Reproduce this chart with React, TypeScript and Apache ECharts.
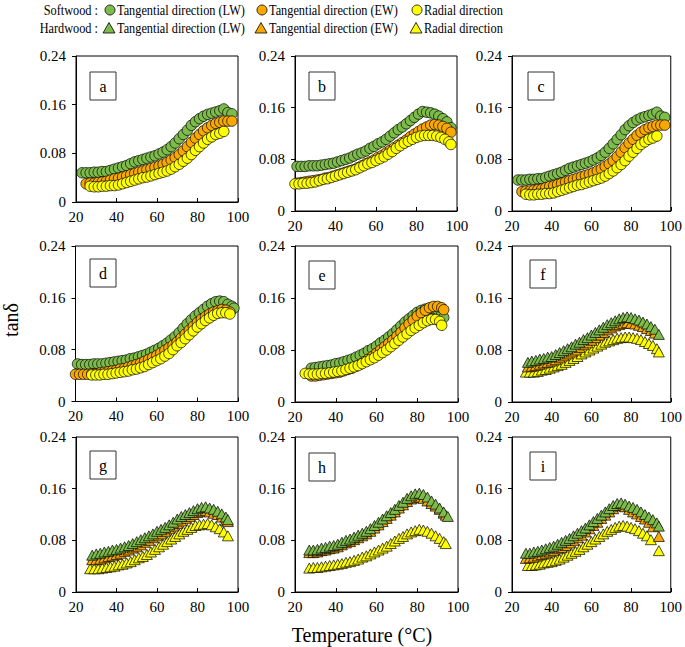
import React, { useEffect, useRef } from 'react';
import * as echarts from 'echarts';

// ---------- DATA ----------
const X_TICKS = [20, 40, 60, 80, 100];
const Y_TICKS = [0, 0.08, 0.16, 0.24];
const PANEL_LABELS = ['a', 'b', 'c', 'd', 'e', 'f', 'g', 'h', 'i'];
const LEGEND_GROUPS = ['Softwood :', 'Hardwood :'];
const LEGEND_ITEMS = ['Tangential direction (LW)', 'Tangential direction (EW)', 'Radial direction'];
const X_TITLE = 'Temperature (°C)';
const Y_TITLE = 'tanδ';

type P = [number, number][];

const A_LW: P = [[23,0.048],[25,0.048],[27,0.048],[29,0.049],[31,0.049],[33,0.050],[35,0.050],[37,0.052],[39,0.054],[41,0.056],[43,0.058],[45,0.060],[47,0.063],[49,0.066],[51,0.068],[53,0.070],[55,0.072],[57,0.074],[59,0.076],[61,0.079],[63,0.082],[65,0.086],[67,0.091],[69,0.097],[71,0.104],[73,0.111],[75,0.118],[77,0.126],[79,0.132],[81,0.137],[83,0.141],[85,0.144],[87,0.146],[89,0.148],[91,0.150],[93,0.153],[95,0.147],[97,0.145]];
const A_EW: P = [[25,0.030],[27,0.031],[29,0.031],[31,0.032],[33,0.033],[35,0.034],[37,0.036],[39,0.038],[41,0.039],[43,0.041],[45,0.043],[47,0.045],[49,0.047],[51,0.049],[53,0.051],[55,0.053],[57,0.055],[59,0.057],[61,0.059],[63,0.062],[65,0.065],[67,0.069],[69,0.073],[71,0.078],[73,0.084],[75,0.091],[77,0.098],[79,0.105],[81,0.111],[83,0.117],[85,0.122],[87,0.126],[89,0.129],[91,0.131],[93,0.133],[95,0.133],[97,0.133]];
const A_RD: P = [[27,0.026],[29,0.025],[31,0.025],[33,0.026],[35,0.026],[37,0.027],[39,0.027],[41,0.028],[43,0.030],[45,0.032],[47,0.034],[49,0.036],[51,0.038],[53,0.040],[55,0.041],[57,0.043],[59,0.045],[61,0.047],[63,0.049],[65,0.051],[67,0.054],[69,0.058],[71,0.062],[73,0.067],[75,0.072],[77,0.078],[79,0.085],[81,0.091],[83,0.097],[85,0.103],[87,0.107],[89,0.111],[91,0.113],[93,0.116]];

const B_LW: P = [[21,0.069],[23,0.069],[25,0.069],[27,0.070],[29,0.070],[31,0.070],[33,0.071],[35,0.072],[37,0.073],[39,0.074],[41,0.076],[43,0.078],[45,0.080],[47,0.082],[49,0.085],[51,0.088],[53,0.090],[55,0.093],[57,0.097],[59,0.100],[61,0.104],[63,0.107],[65,0.111],[67,0.116],[69,0.121],[71,0.126],[73,0.130],[75,0.135],[77,0.140],[79,0.145],[81,0.150],[83,0.154],[85,0.153],[87,0.152],[89,0.150],[91,0.147],[93,0.143],[95,0.138],[97,0.129]];
const B_EW: P = [[21,0.043],[23,0.044],[25,0.045],[27,0.046],[29,0.047],[31,0.048],[33,0.049],[35,0.051],[37,0.052],[39,0.054],[41,0.056],[43,0.058],[45,0.060],[47,0.062],[49,0.064],[51,0.067],[53,0.070],[55,0.073],[57,0.076],[59,0.079],[61,0.083],[63,0.086],[65,0.090],[67,0.094],[69,0.098],[71,0.102],[73,0.106],[75,0.110],[77,0.115],[79,0.119],[81,0.123],[83,0.127],[85,0.130],[87,0.133],[89,0.134],[91,0.133],[93,0.131],[95,0.128],[97,0.122]];
const B_RD: P = [[20,0.042],[22,0.042],[24,0.043],[26,0.043],[28,0.044],[30,0.045],[32,0.047],[34,0.049],[36,0.050],[38,0.052],[40,0.054],[42,0.056],[44,0.058],[46,0.060],[48,0.062],[50,0.064],[52,0.067],[54,0.070],[56,0.073],[58,0.075],[60,0.078],[62,0.081],[64,0.084],[66,0.088],[68,0.092],[70,0.097],[72,0.101],[74,0.105],[76,0.108],[78,0.111],[80,0.114],[82,0.116],[84,0.117],[86,0.117],[88,0.117],[90,0.116],[92,0.114],[94,0.111],[96,0.107],[97,0.103]];

// panel c repeats the same curves as panel a
const C_LW: P = A_LW;
const C_EW: P = A_EW;
const C_RD: P = A_RD;

const D_LW: P = [[21,0.058],[23,0.057],[25,0.057],[27,0.057],[29,0.058],[31,0.058],[33,0.058],[35,0.059],[37,0.060],[39,0.061],[41,0.062],[43,0.063],[45,0.064],[47,0.066],[49,0.067],[51,0.069],[53,0.071],[55,0.073],[57,0.076],[59,0.079],[61,0.082],[63,0.086],[65,0.090],[67,0.095],[69,0.100],[71,0.106],[73,0.113],[75,0.120],[77,0.126],[79,0.132],[81,0.137],[83,0.142],[85,0.147],[87,0.151],[89,0.154],[91,0.155],[93,0.154],[95,0.150],[97,0.147],[98,0.144]];
const D_EW: P = [[20,0.042],[22,0.042],[24,0.042],[26,0.042],[28,0.043],[30,0.043],[32,0.044],[34,0.045],[36,0.046],[38,0.047],[40,0.048],[42,0.050],[44,0.051],[46,0.053],[48,0.055],[50,0.057],[52,0.059],[54,0.062],[56,0.065],[58,0.068],[60,0.071],[62,0.075],[64,0.079],[66,0.083],[68,0.087],[70,0.092],[72,0.098],[74,0.104],[76,0.110],[78,0.116],[80,0.122],[82,0.127],[84,0.131],[86,0.135],[88,0.138],[90,0.140],[92,0.142],[94,0.141],[96,0.138]];
const D_RD: P = [[28,0.041],[30,0.041],[32,0.041],[34,0.042],[36,0.042],[38,0.043],[40,0.044],[42,0.045],[44,0.046],[46,0.047],[48,0.049],[50,0.050],[52,0.052],[54,0.054],[56,0.057],[58,0.060],[60,0.063],[62,0.066],[64,0.070],[66,0.074],[68,0.080],[70,0.086],[72,0.091],[74,0.097],[76,0.103],[78,0.109],[80,0.115],[82,0.120],[84,0.125],[86,0.129],[88,0.133],[90,0.136],[92,0.137],[94,0.137],[96,0.135]];

const E_LW: P = [[28,0.052],[30,0.053],[32,0.054],[34,0.055],[36,0.056],[38,0.057],[40,0.059],[42,0.060],[44,0.062],[46,0.064],[48,0.066],[50,0.069],[52,0.072],[54,0.075],[56,0.079],[58,0.082],[60,0.086],[62,0.091],[64,0.095],[66,0.100],[68,0.105],[70,0.111],[72,0.117],[74,0.123],[76,0.128],[78,0.133],[80,0.138],[82,0.141],[84,0.143],[86,0.144],[88,0.144],[90,0.142],[92,0.135],[93,0.130]];
const E_EW: P = [[28,0.040],[30,0.040],[32,0.041],[34,0.042],[36,0.043],[38,0.044],[40,0.045],[42,0.046],[44,0.048],[46,0.050],[48,0.052],[50,0.055],[52,0.058],[54,0.062],[56,0.066],[58,0.070],[60,0.075],[62,0.080],[64,0.085],[66,0.090],[68,0.095],[70,0.101],[72,0.107],[74,0.114],[76,0.120],[78,0.126],[80,0.132],[82,0.137],[84,0.141],[86,0.145],[88,0.147],[90,0.147],[92,0.145],[93,0.142]];
const E_RD: P = [[25,0.044],[27,0.043],[29,0.043],[31,0.043],[33,0.044],[35,0.044],[37,0.045],[39,0.046],[41,0.047],[43,0.048],[45,0.050],[47,0.052],[49,0.054],[51,0.056],[53,0.059],[55,0.062],[57,0.065],[59,0.068],[61,0.072],[63,0.076],[65,0.080],[67,0.085],[69,0.090],[71,0.095],[73,0.100],[75,0.105],[77,0.110],[79,0.114],[81,0.118],[83,0.122],[85,0.125],[87,0.127],[89,0.127],[91,0.124],[92,0.118]];

const F_LW: P = [[28,0.061],[30,0.063],[32,0.064],[34,0.066],[36,0.067],[38,0.069],[40,0.070],[42,0.073],[44,0.076],[46,0.079],[48,0.082],[50,0.085],[52,0.089],[54,0.092],[56,0.096],[58,0.099],[60,0.103],[62,0.107],[64,0.111],[66,0.115],[68,0.119],[70,0.122],[72,0.125],[74,0.128],[76,0.130],[78,0.131],[80,0.130],[82,0.128],[84,0.126],[86,0.123],[88,0.120],[90,0.116],[92,0.112],[94,0.104]];
const F_EW: P = [[28,0.054],[30,0.055],[32,0.056],[34,0.058],[36,0.060],[38,0.061],[40,0.063],[42,0.065],[44,0.068],[46,0.071],[48,0.074],[50,0.077],[52,0.080],[54,0.084],[56,0.088],[58,0.091],[60,0.095],[62,0.099],[64,0.103],[66,0.107],[68,0.111],[70,0.114],[72,0.117],[74,0.119],[76,0.121],[78,0.122],[80,0.121],[82,0.120],[84,0.118],[86,0.116],[88,0.113],[90,0.110],[92,0.106]];
const F_RD: P = [[27,0.046],[29,0.046],[31,0.046],[33,0.047],[35,0.049],[37,0.050],[39,0.052],[41,0.054],[43,0.056],[45,0.058],[47,0.061],[49,0.064],[51,0.067],[53,0.070],[55,0.074],[57,0.077],[59,0.080],[61,0.083],[63,0.086],[65,0.089],[67,0.092],[69,0.094],[71,0.096],[73,0.098],[75,0.099],[77,0.100],[79,0.100],[81,0.099],[83,0.098],[85,0.096],[87,0.093],[89,0.090],[91,0.087],[93,0.082],[94,0.077]];

const G_LW: P = [[28,0.057],[30,0.059],[32,0.060],[34,0.062],[36,0.063],[38,0.065],[40,0.066],[42,0.068],[44,0.070],[46,0.072],[48,0.075],[50,0.078],[52,0.081],[54,0.084],[56,0.087],[58,0.090],[60,0.094],[62,0.097],[64,0.100],[66,0.104],[68,0.108],[70,0.113],[72,0.117],[74,0.120],[76,0.123],[78,0.126],[80,0.129],[82,0.131],[84,0.132],[86,0.130],[88,0.128],[90,0.125],[92,0.121],[94,0.116],[95,0.112]];
const G_EW: P = [[28,0.050],[30,0.050],[32,0.051],[34,0.053],[36,0.055],[38,0.056],[40,0.058],[42,0.060],[44,0.063],[46,0.065],[48,0.068],[50,0.070],[52,0.073],[54,0.077],[56,0.080],[58,0.084],[60,0.087],[62,0.090],[64,0.094],[66,0.098],[68,0.102],[70,0.106],[72,0.110],[74,0.114],[76,0.117],[78,0.120],[80,0.123],[82,0.125],[84,0.126],[86,0.124],[88,0.122],[90,0.120],[92,0.116],[94,0.111],[95,0.109]];
const G_RD: P = [[27,0.036],[29,0.036],[31,0.036],[33,0.037],[35,0.038],[37,0.039],[39,0.040],[41,0.042],[43,0.043],[45,0.045],[47,0.047],[49,0.050],[51,0.053],[53,0.055],[55,0.058],[57,0.062],[59,0.066],[61,0.070],[63,0.074],[65,0.078],[67,0.082],[69,0.086],[71,0.090],[73,0.094],[75,0.097],[77,0.100],[79,0.103],[81,0.104],[83,0.105],[85,0.106],[87,0.104],[89,0.101],[91,0.098],[93,0.093],[95,0.087]];

const H_LW: P = [[27,0.065],[29,0.065],[31,0.066],[33,0.068],[35,0.069],[37,0.071],[39,0.072],[41,0.074],[43,0.077],[45,0.080],[47,0.082],[49,0.085],[51,0.088],[53,0.091],[55,0.094],[57,0.098],[59,0.103],[61,0.108],[63,0.113],[65,0.118],[67,0.123],[69,0.128],[71,0.134],[73,0.139],[75,0.145],[77,0.149],[79,0.152],[81,0.153],[83,0.151],[85,0.147],[87,0.141],[89,0.136],[91,0.130],[93,0.124],[95,0.117]];
const H_EW: P = [[27,0.061],[29,0.061],[31,0.062],[33,0.064],[35,0.065],[37,0.067],[39,0.068],[41,0.070],[43,0.073],[45,0.076],[47,0.078],[49,0.081],[51,0.084],[53,0.087],[55,0.090],[57,0.094],[59,0.099],[61,0.104],[63,0.109],[65,0.114],[67,0.119],[69,0.124],[71,0.130],[73,0.135],[75,0.140],[77,0.144],[79,0.146],[81,0.147],[83,0.145],[85,0.141],[87,0.137],[89,0.133],[91,0.128],[93,0.122],[94,0.119]];
const H_RD: P = [[27,0.037],[29,0.038],[31,0.038],[33,0.039],[35,0.040],[37,0.041],[39,0.042],[41,0.043],[43,0.044],[45,0.046],[47,0.047],[49,0.049],[51,0.051],[53,0.054],[55,0.056],[57,0.059],[59,0.062],[61,0.065],[63,0.068],[65,0.071],[67,0.075],[69,0.079],[71,0.083],[73,0.086],[75,0.090],[77,0.093],[79,0.095],[81,0.097],[83,0.096],[85,0.094],[87,0.091],[89,0.087],[91,0.083],[93,0.078],[94,0.075]];

const I_LW: P = [[27,0.060],[29,0.060],[31,0.062],[33,0.063],[35,0.065],[37,0.067],[39,0.069],[41,0.071],[43,0.074],[45,0.077],[47,0.080],[49,0.083],[51,0.087],[53,0.091],[55,0.095],[57,0.099],[59,0.104],[61,0.109],[63,0.114],[65,0.119],[67,0.124],[69,0.129],[71,0.134],[73,0.137],[75,0.138],[77,0.136],[79,0.133],[81,0.131],[83,0.128],[85,0.124],[87,0.120],[89,0.116],[91,0.112],[93,0.107],[94,0.102]];
const I_EW: P = [[27,0.052],[29,0.053],[31,0.054],[33,0.056],[35,0.058],[37,0.060],[39,0.062],[41,0.064],[43,0.067],[45,0.069],[47,0.072],[49,0.076],[51,0.080],[53,0.084],[55,0.088],[57,0.093],[59,0.098],[61,0.103],[63,0.108],[65,0.114],[67,0.119],[69,0.124],[71,0.129],[73,0.133],[75,0.134],[77,0.132],[79,0.128],[81,0.124],[83,0.121],[85,0.117],[87,0.113],[89,0.108],[91,0.101],[94,0.086]];
const I_RD: P = [[28,0.041],[30,0.041],[32,0.042],[34,0.043],[36,0.045],[38,0.046],[40,0.047],[42,0.049],[44,0.051],[46,0.054],[48,0.057],[50,0.060],[52,0.063],[54,0.066],[56,0.070],[58,0.074],[60,0.078],[62,0.082],[64,0.086],[66,0.090],[68,0.094],[70,0.097],[72,0.100],[74,0.102],[76,0.103],[78,0.102],[80,0.100],[82,0.098],[84,0.095],[86,0.091],[88,0.087],[90,0.081],[94,0.064]];

const PANEL_DATA: P[][] = [
  [A_LW, A_EW, A_RD], [B_LW, B_EW, B_RD], [C_LW, C_EW, C_RD],
  [D_LW, D_EW, D_RD], [E_LW, E_EW, E_RD], [F_LW, F_EW, F_RD],
  [G_LW, G_EW, G_RD], [H_LW, H_EW, H_RD], [I_LW, I_EW, I_RD],
];
const PANEL_WOOD = ['soft', 'soft', 'soft', 'soft', 'soft', 'hard', 'hard', 'hard', 'hard'];

// ---------- LAYOUT / STYLE ----------
const COLORS = ['#7DBB4B', '#F8A800', '#FFFF00'];
const SERIF = 'Liberation Serif';
const GRIDS = [
  { left: 76, top: 56, width: 162, height: 146 },
  { left: 295, top: 56, width: 162, height: 155 },
  { left: 512, top: 56, width: 161, height: 155 },
  { left: 75.5, top: 246, width: 162.5, height: 155.5 },
  { left: 295, top: 246, width: 163, height: 156 },
  { left: 512, top: 246, width: 161, height: 156 },
  { left: 76, top: 437, width: 162, height: 155 },
  { left: 295, top: 437, width: 163, height: 155 },
  { left: 512, top: 437, width: 162, height: 155 },
];
const BOXES = [[90, 72], [309, 72], [528, 72], [90, 259], [309, 261], [530, 260], [90, 451], [309, 453], [530, 452]];
const LEGEND_MARK_X = [110, 262, 417];
const LEGEND_TEXT_X = [117, 269, 424];
const LEGEND_ROW_Y = [10, 28];

export default function App() {
  const ref = useRef<HTMLDivElement>(null);
  useEffect(() => {
    if (!ref.current) return;
    const chart = echarts.init(ref.current, undefined, { renderer: 'svg' });

    const grid: any[] = [];
    const xAxis: any[] = [];
    const yAxis: any[] = [];
    const series: any[] = [];
    const graphic: any[] = [];

    GRIDS.forEach((g, i) => {
      grid.push({ ...g, show: true, borderColor: '#000', borderWidth: 1, backgroundColor: 'transparent', containLabel: false });
      xAxis.push({
        type: 'value', gridIndex: i, min: X_TICKS[0], max: X_TICKS[X_TICKS.length - 1], interval: X_TICKS[1] - X_TICKS[0],
        axisLine: { show: true, onZero: false, lineStyle: { color: '#000', width: 1 } },
        axisTick: { show: true, inside: true, length: 4, lineStyle: { color: '#000' } },
        axisLabel: { color: '#000', fontFamily: SERIF, fontSize: 15, margin: 7 },
        splitLine: { show: false },
      });
      yAxis.push({
        type: 'value', gridIndex: i, min: Y_TICKS[0], max: Y_TICKS[Y_TICKS.length - 1], interval: Y_TICKS[1] - Y_TICKS[0],
        axisLine: { show: true, onZero: false, lineStyle: { color: '#000', width: 1 } },
        axisTick: { show: true, inside: false, length: 4, lineStyle: { color: '#000' } },
        axisLabel: {
          color: '#000', fontFamily: SERIF, fontSize: 15, margin: 10,
          formatter: (v: number) => (Math.abs(v) < 1e-9 ? '0' : v.toFixed(2)),
        },
        splitLine: { show: false },
      });
      const soft = PANEL_WOOD[i] === 'soft';
      const order = soft ? [0, 1, 2] : [2, 1, 0];
      order.forEach((k) => {
        series.push({
          type: 'scatter',
          name: (soft ? 'Softwood ' : 'Hardwood ') + LEGEND_ITEMS[k],
          xAxisIndex: i, yAxisIndex: i,
          symbol: soft ? 'circle' : 'triangle',
          symbolSize: soft ? 10.5 : [11, 10],
          itemStyle: { color: COLORS[k], borderColor: '#000', borderWidth: 0.7, opacity: 1 },
          data: PANEL_DATA[i][k],
          silent: true,
        });
      });
      const [bx, by] = BOXES[i];
      graphic.push({ type: 'rect', shape: { x: bx, y: by, width: 26, height: 28 }, style: { fill: '#fff', stroke: '#333', lineWidth: 1 }, z: 100 });
      graphic.push({ type: 'text', x: bx + 13, y: by + 14, style: { text: PANEL_LABELS[i], fill: '#000', fontFamily: SERIF, fontSize: 16, align: 'center', verticalAlign: 'middle' }, z: 101 });
    });

    // legend
    LEGEND_ROW_Y.forEach((ly, r) => {
      graphic.push({ type: 'text', x: 98, y: ly, scaleX: 0.82, style: { text: LEGEND_GROUPS[r], fill: '#000', fontFamily: SERIF, fontSize: 15, align: 'right', verticalAlign: 'middle' } });
      LEGEND_ITEMS.forEach((label, k) => {
        const cx = LEGEND_MARK_X[k] - (r === 1 ? 1 : 0);
        if (r === 0) {
          graphic.push({ type: 'circle', shape: { cx, cy: ly, r: 5 }, style: { fill: COLORS[k], stroke: '#000', lineWidth: 0.8 } });
        } else {
          graphic.push({ type: 'polygon', shape: { points: [[cx - 6, ly + 5], [cx + 6, ly + 5], [cx, ly - 5.5]] }, style: { fill: COLORS[k], stroke: '#000', lineWidth: 0.8 } });
        }
        graphic.push({ type: 'text', x: LEGEND_TEXT_X[k], y: ly, scaleX: 0.82, style: { text: label, fill: '#000', fontFamily: SERIF, fontSize: 15, align: 'left', verticalAlign: 'middle' } });
      });
    });

    // axis titles
    graphic.push({ type: 'text', x: 362, y: 635, style: { text: X_TITLE, fill: '#000', fontFamily: SERIF, fontSize: 20, align: 'center', verticalAlign: 'middle' } });
    graphic.push({ type: 'text', x: 11, y: 320, rotation: Math.PI / 2, style: { text: Y_TITLE, fill: '#000', fontFamily: SERIF, fontSize: 20, align: 'center', verticalAlign: 'middle' } });

    chart.setOption({
      animation: false,
      backgroundColor: '#fff',
      grid, xAxis, yAxis, series, graphic,
    });
    return () => chart.dispose();
  }, []);
  return <div ref={ref} style={{ position: 'absolute', left: 0, top: 0, width: 685, height: 647 }} />;
}
